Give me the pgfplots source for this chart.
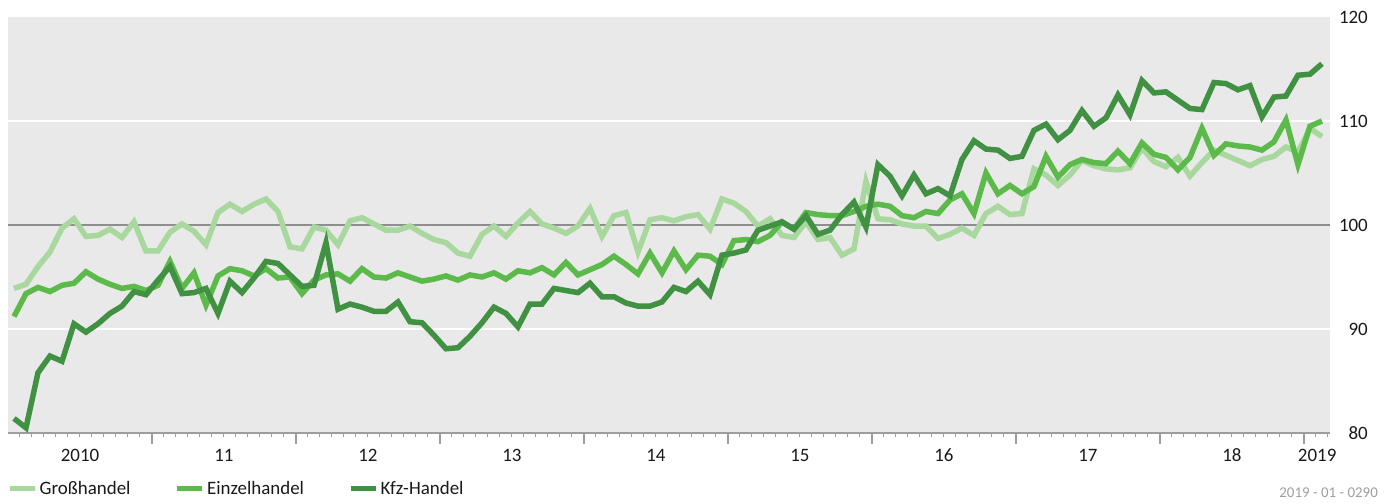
\documentclass[border=0pt]{standalone}
\usepackage{pgfplots}
\pgfplotsset{compat=1.18}
\usepackage{pgfplotstable}
\usepackage{fontspec}
\setmainfont{Carlito}

\definecolor{gross}{RGB}{168,216,158}
\definecolor{einzel}{RGB}{92,186,74}
\definecolor{kfz}{RGB}{64,145,66}
\definecolor{bg}{RGB}{233,233,233}
\definecolor{axgray}{RGB}{158,158,158}
\definecolor{txt}{RGB}{25,25,25}

% monthly index values, Jan 2010 (x=0.5) to Feb 2019 (x=109.5)
\pgfplotstableread{
x gross einzel kfz
0.5 93.9 91.2 81.4
1.5 94.3 93.4 80.5
2.5 96.0 94.0 85.8
3.5 97.4 93.6 87.4
4.5 99.7 94.2 86.9
5.5 100.6 94.4 90.5
6.5 98.9 95.5 89.7
7.5 99.0 94.8 90.5
8.5 99.6 94.3 91.5
9.5 98.8 93.9 92.2
10.5 100.3 94.1 93.6
11.5 97.5 93.7 93.3
12.5 97.5 94.2 94.7
13.5 99.3 96.5 96.0
14.5 100.1 93.9 93.4
15.5 99.4 95.4 93.5
16.5 98.1 92.3 93.9
17.5 101.2 95.1 91.5
18.5 102.0 95.8 94.6
19.5 101.3 95.6 93.5
20.5 102.0 95.1 94.9
21.5 102.5 95.8 96.5
22.5 101.3 94.9 96.3
23.5 97.9 95.0 95.2
24.5 97.7 93.4 94.1
25.5 99.8 94.7 94.2
26.5 99.5 95.2 98.3
27.5 98.1 95.3 91.9
28.5 100.4 94.6 92.4
29.5 100.7 95.8 92.1
30.5 100.1 95.0 91.7
31.5 99.5 94.9 91.7
32.5 99.5 95.4 92.6
33.5 99.9 95.0 90.7
34.5 99.2 94.6 90.6
35.5 98.6 94.8 89.4
36.5 98.3 95.1 88.1
37.5 97.3 94.7 88.2
38.5 97.0 95.2 89.3
39.5 99.1 95.0 90.6
40.5 99.9 95.4 92.1
41.5 98.9 94.8 91.5
42.5 100.2 95.6 90.2
43.5 101.3 95.4 92.4
44.5 100.1 95.9 92.4
45.5 99.7 95.2 93.9
46.5 99.2 96.4 93.7
47.5 99.9 95.2 93.5
48.5 101.6 95.7 94.4
49.5 98.9 96.2 93.1
50.5 100.9 97.0 93.1
51.5 101.2 96.2 92.5
52.5 97.4 95.3 92.2
53.5 100.5 97.3 92.2
54.5 100.7 95.4 92.6
55.5 100.4 97.5 94.0
56.5 100.8 95.7 93.6
57.5 101.0 97.1 94.6
58.5 99.6 97.0 93.3
59.5 102.5 96.2 97.1
60.5 102.1 98.5 97.3
61.5 101.3 98.6 97.6
62.5 99.9 98.4 99.5
63.5 100.6 99.0 99.9
64.5 99.0 100.3 100.3
65.5 98.8 99.6 99.6
66.5 100.3 101.2 100.9
67.5 98.6 101.0 99.1
68.5 98.8 100.9 99.5
69.5 97.1 100.9 101.0
70.5 97.7 101.3 102.2
71.5 104.2 101.8 99.8
72.5 100.6 102.0 105.8
73.5 100.5 101.8 104.7
74.5 100.1 100.9 102.8
75.5 99.9 100.7 104.8
76.5 99.9 101.3 103.0
77.5 98.7 101.1 103.5
78.5 99.1 102.4 102.8
79.5 99.7 103.0 106.3
80.5 99.0 101.1 108.1
81.5 101.1 105.0 107.3
82.5 101.8 103.0 107.2
83.5 101.0 103.8 106.4
84.5 101.1 103.0 106.6
85.5 105.4 103.7 109.1
86.5 104.8 106.6 109.7
87.5 103.8 104.6 108.2
88.5 104.8 105.8 109.1
89.5 106.2 106.3 111.0
90.5 105.7 106.0 109.5
91.5 105.4 105.9 110.3
92.5 105.3 107.1 112.5
93.5 105.5 105.9 110.6
94.5 107.4 107.9 113.9
95.5 106.1 106.8 112.7
96.5 105.6 106.5 112.8
97.5 106.5 105.3 112.0
98.5 104.7 106.5 111.2
99.5 106.0 109.3 111.1
100.5 107.2 106.7 113.7
101.5 106.7 107.8 113.6
102.5 106.2 107.6 113.0
103.5 105.7 107.5 113.4
104.5 106.3 107.2 110.4
105.5 106.6 108.0 112.3
106.5 107.5 110.1 112.4
107.5 107.0 105.8 114.4
108.5 109.3 109.5 114.5
109.5 108.5 110.0 115.5
}\handel

\begin{document}
\begin{tikzpicture}
\begin{axis}[
  at={(0,0)}, anchor=south west,
  scale only axis, width=1322bp, height=416bp,
  xmin=0, xmax=110.17, ymin=80, ymax=120,
  clip=false,
  font=\fontsize{19}{22}\selectfont\color{txt},
  /pgf/number format/assume math mode=true,
  axis background/.style={fill=bg},
  axis x line*=bottom, axis y line*=right,
  x axis line style={draw=axgray, line width=2bp},
  y axis line style={draw=none},
  tick align=outside,
  xtick={6,18,30,42,54,66,78,90,102,109.1},
  xticklabels={2010,11,12,13,14,15,16,17,18,2019},
  xticklabel style={anchor=base, yshift=-28bp, inner sep=0pt},
  major tick length=0bp,
  minor xtick={1,2,...,110},
  minor tick length=4bp,
  minor tick style={draw=axgray, line width=1bp},
  extra x ticks={12,24,36,48,60,72,84,96,108},
  extra x tick labels={},
  extra x tick style={major tick length=11bp, major tick style={draw=axgray, line width=1.5bp}},
  ytick={90,100,110},
  extra y ticks={80,120},
  extra y tick style={grid=none},
  ymajorgrids,
  major grid style={draw=white, line width=2.5bp},
  yticklabel style={anchor=east, xshift=38bp, inner sep=0pt},
  legend columns=3,
  legend style={at={(-8bp,-71bp)}, anchor=south west, xshift=7bp, yshift=6bp,
    draw=none, fill=none, inner sep=0pt, font=\fontsize{19}{22}\selectfont\color{txt},
    /tikz/every even column/.append style={column sep=42bp}},
  legend image code/.code={\draw[#1, line width=5.5bp] (0bp,0bp) -- (25bp,0bp);},
  legend cell align=left,
]
\draw[draw=axgray!90!black, line width=2.5bp] (axis cs:0,100) -- (axis cs:110.17,100);
\addplot[gross, line width=5.5bp, no markers] table[x=x, y=gross] {\handel};
\addplot[einzel, line width=5.5bp, no markers] table[x=x, y=einzel] {\handel};
\addplot[kfz, line width=5.5bp, no markers] table[x=x, y=kfz] {\handel};
\legend{Großhandel, Einzelhandel, Kfz-Handel}
\end{axis}
\node[anchor=base east, inner sep=0pt, text=axgray, font=\fontsize{15}{18}\selectfont]
  at (1370bp,-64bp) {2019 - 01 - 0290};
\useasboundingbox (-8bp,-71bp) rectangle (1378bp,433bp);
\end{tikzpicture}
\end{document}
